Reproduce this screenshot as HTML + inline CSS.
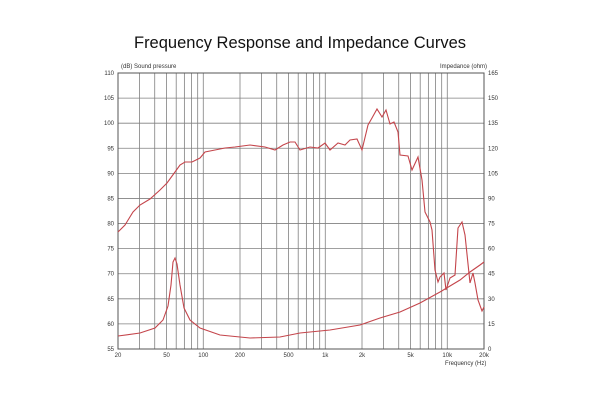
<!DOCTYPE html>
<html><head><meta charset="utf-8"><style>
html,body{margin:0;padding:0;background:#fff;}
svg{display:block;}
text{font-family:"Liberation Sans",sans-serif;fill:#333;}
</style></head><body>
<svg width="600" height="400" viewBox="0 0 600 400" xmlns="http://www.w3.org/2000/svg">
<rect width="600" height="400" fill="#fff"/>
<text x="300" y="48" text-anchor="middle" font-size="16.5" style="fill:#111">Frequency Response and Impedance Curves</text>
<g id="grid" stroke="#808080" stroke-width="0.8" fill="none"></g>
<rect x="118" y="73" width="366" height="276" fill="none" stroke="#555" stroke-width="1"/>
<g id="labels" font-size="6"></g>
<text x="121" y="68" font-size="6">(dB)  Sound pressure</text>
<text x="440" y="68" font-size="6">Impedance  (ohm)</text>
<text x="445" y="365" font-size="6">Frequency  (Hz)</text>
<polyline fill="none" stroke="#c4454b" stroke-width="1.1" points="118,336 140,333 155,328 163,320 168,306 171,285 173,262 175,258 177,264 180,285 184,308 190,320 200,328 220,335 250,338 280,337 300,333 330,330 360,325 380,318 400,312 420,303 440,292 460,280 470,272 480,265 484,262"/>
<polyline fill="none" stroke="#c4454b" stroke-width="1.1" points="118,232 125,225 133,212 140,205 150,199 160,190 167,183 175,172 180,165 185,162 192,162 200,158 205,152 215,150 225,148 235,147 250,145 265,147 275,150 283,145 290,142 295,142 300,150 310,147 318,148 325,143 330,150 338,143 345,145 350,140 357,139 362,150 368,125 372,118 377,109 382,117 386,110 390,124 394,122 398,132 400,155 408,156 412,170 418,157 422,180 425,212 430,222 432,230 435,270 438,282 440,277 444,273 446,290 450,278 455,275 458,228 462,222 465,235 470,283 473,273 475,283 478,300 482,311 484,307"/>
<script>
var g=document.getElementById('grid'),L=document.getElementById('labels'),ns='http://www.w3.org/2000/svg';
function ln(x1,y1,x2,y2){var l=document.createElementNS(ns,'line');l.setAttribute('x1',x1);l.setAttribute('y1',y1);l.setAttribute('x2',x2);l.setAttribute('y2',y2);g.appendChild(l);}
function tx(x,y,s,a){var t=document.createElementNS(ns,'text');t.setAttribute('x',x);t.setAttribute('y',y);t.setAttribute('text-anchor',a);t.textContent=s;L.appendChild(t);}
[20,30,40,50,60,70,80,90,100,200,300,400,500,600,700,800,900,1000,2000,3000,4000,5000,6000,7000,8000,9000,10000,20000].forEach(function(f){var x=118+122*Math.log10(f/20);ln(x,73,x,349);});
for(var i=0;i<=11;i++){var y=73+i*25.09;ln(118,y,484,y);tx(114,y+2,String(110-5*i),'end');tx(488,y+2,String(165-15*i),'start');}
[[20,'20'],[50,'50'],[100,'100'],[200,'200'],[500,'500'],[1000,'1k'],[2000,'2k'],[5000,'5k'],[10000,'10k'],[20000,'20k']].forEach(function(p){tx(118+122*Math.log10(p[0]/20),357,p[1],'middle');});
</script>
</svg>
</body></html>
